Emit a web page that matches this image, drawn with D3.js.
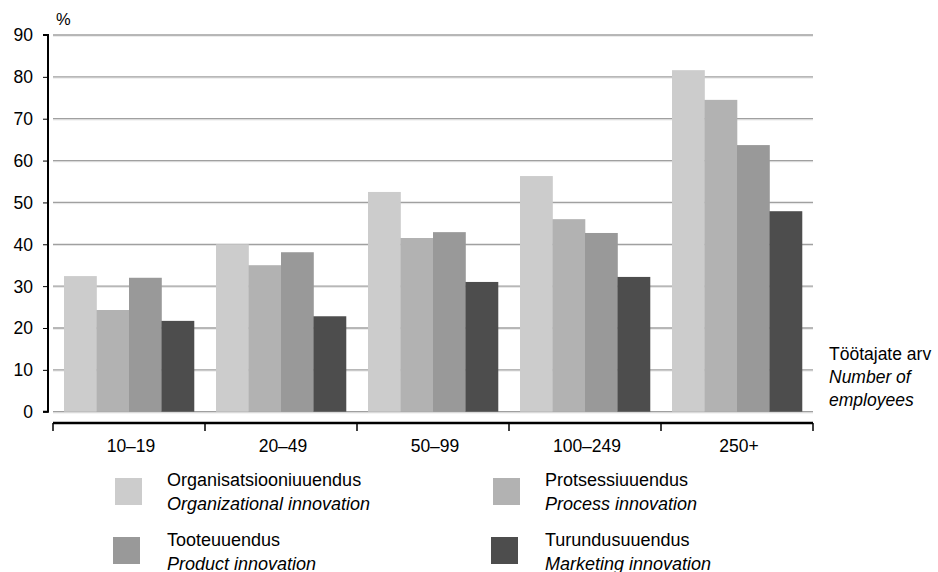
<!DOCTYPE html>
<html><head><meta charset="utf-8">
<script src="https://cdn.jsdelivr.net/npm/d3@7"></script>
<style>body{margin:0;background:#fff}svg{display:block;font-family:"Liberation Sans",Arial,sans-serif}</style>
</head><body><svg id="c" width="938" height="572"></svg>
<script>
const categories = ["10–19","20–49","50–99","100–249","250+"];
const seriesNames = ["Organisatsiooniuuendus","Protsessiuuendus","Tooteuuendus","Turundusuuendus"];
const seriesNamesEn = ["Organizational innovation","Process innovation","Product innovation","Marketing innovation"];
const organizational = [32.4, 40.0, 52.5, 56.3, 81.6];
const process = [24.3, 35.0, 41.5, 46.0, 74.5];
const product = [32.0, 38.1, 42.9, 42.7, 63.7];
const marketing = [21.7, 22.8, 31.0, 32.2, 47.9];
const yTicks = [0,10,20,30,40,50,60,70,80,90];
const colors = ["#cccccc","#b2b2b2","#999999","#4d4d4d"];
const series = [organizational, process, product, marketing];

const FS = 17.5;
const LFS = 18;
const svg = d3.select("#c");
const x0 = d3.scaleBand().domain(categories).range([53, 813]).paddingInner(0.145).paddingOuter(0.0725);
const xg = d3.scaleBand().domain(categories).range([53, 813]);
const x1 = d3.scaleBand().domain(d3.range(4)).range([0, x0.bandwidth()]);
const y = d3.scaleLinear().domain([0, 90]).range([411.7, 35]);

// gridlines
svg.append("g").selectAll("line").data(yTicks).join("line")
  .attr("x1", 53).attr("x2", 813).attr("y1", d => y(d)+1.2).attr("y2", d => y(d)+1.2)
  .attr("stroke", "#e4e4e4").attr("stroke-width", 1);
svg.append("g").selectAll("line").data(yTicks).join("line")
  .attr("x1", 53).attr("x2", 813).attr("y1", d => y(d)).attr("y2", d => y(d))
  .attr("stroke", "#a0a0a0").attr("stroke-width", 1.3);

// bars
const g = svg.append("g");
series.forEach((s, si) => {
  g.append("g").selectAll("rect").data(s).join("rect")
    .attr("x", (d, i) => x0(categories[i]) + x1(si))
    .attr("y", d => y(d))
    .attr("width", x1.bandwidth() + 0.3)
    .attr("height", d => y(0) - y(d))
    .attr("fill", colors[si]);
});

// y axis
const ya = svg.append("g").attr("transform", "translate(48,0)")
  .call(d3.axisLeft(y).tickValues(yTicks).tickSize(5).tickPadding(10));
ya.select(".domain").attr("stroke", "#000").attr("stroke-width", 2).attr("d", `M-5,${y(90)}H0V${y(0)}H-5`);
ya.selectAll(".tick line").attr("stroke", "#000").attr("stroke-width", 1);
ya.selectAll(".tick text").attr("font-size", FS).attr("fill", "#000")
  .attr("dy", "0.34em").style("font-family", "Liberation Sans, Arial, sans-serif");

svg.append("text").attr("x", 56).attr("y", 25).attr("font-size", 16.5).text("%");

// x axis
const xa = svg.append("g").attr("transform", "translate(0,423)");
xa.append("line").attr("x1", 53).attr("x2", 813).attr("y1", 0).attr("y2", 0).attr("stroke", "#000").attr("stroke-width", 2.5);
xa.selectAll(".bt").data(d3.range(categories.length + 1)).join("line")
  .attr("x1", i => i < categories.length ? xg(categories[i]) : xg.range()[1])
  .attr("x2", i => i < categories.length ? xg(categories[i]) : xg.range()[1])
  .attr("y1", 0).attr("y2", 8).attr("stroke", "#000").attr("stroke-width", 1.5);
xa.selectAll("text").data(categories).join("text")
  .attr("x", d => xg(d) + xg.bandwidth()/2 + 2).attr("y", 29)
  .attr("text-anchor", "middle").attr("font-size", FS).text(d => d);

// right axis title
svg.append("text").attr("x", 829).attr("y", 360).attr("font-size", FS).text("Töötajate arv");
svg.append("text").attr("x", 829).attr("y", 383).attr("font-size", FS).attr("font-style", "italic").text("Number of");
svg.append("text").attr("x", 829).attr("y", 406).attr("font-size", FS).attr("font-style", "italic").text("employees");

// legend
const legendPos = [
  {sx: 115, sy: 478, tx: 167, ty: 486},
  {sx: 493, sy: 478, tx: 545, ty: 486},
  {sx: 113, sy: 537, tx: 167, ty: 546},
  {sx: 491, sy: 537, tx: 545, ty: 546}
];
const lg = svg.append("g");
seriesNames.forEach((n, i) => {
  const p = legendPos[i];
  lg.append("rect").attr("x", p.sx).attr("y", p.sy).attr("width", 27).attr("height", 27).attr("fill", colors[i]);
  lg.append("text").attr("x", p.tx).attr("y", p.ty).attr("font-size", LFS).text(n);
  lg.append("text").attr("x", p.tx).attr("y", p.ty + 23.5).attr("font-size", LFS).attr("font-style", "italic").text(seriesNamesEn[i]);
});
</script></body></html>
